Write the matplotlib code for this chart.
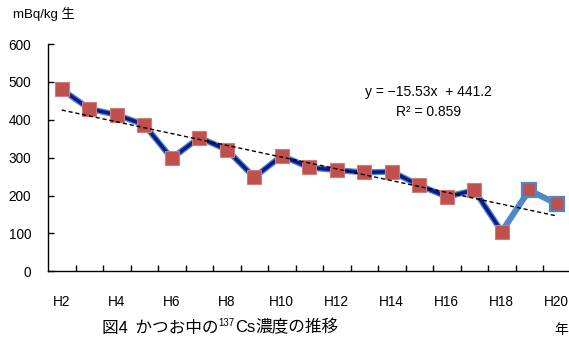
import matplotlib
matplotlib.use("Agg")
import matplotlib.pyplot as plt
import numpy as np

plt.rcParams['font.family'] = ['Liberation Sans', 'Noto Sans CJK JP', 'DejaVu Sans']

# Fiscal years (Heisei) and 137Cs concentration in skipjack tuna (mBq/kg wet)
years = ["H2", "H3", "H4", "H5", "H6", "H7", "H8", "H9", "H10", "H11",
         "H12", "H13", "H14", "H15", "H16", "H17", "H18", "H19", "H20"]
cs137 = [480, 429, 413, 387, 298, 353, 321, 248, 305, 274,
         267, 261, 263, 227, 197, 214, 105, 214, 178]
trend_slope = -15.53
trend_intercept = 441.2
r_squared = 0.859
n_main = 17  # points H2..H18 drawn with the dark core line

fig = plt.figure(figsize=(5.69, 3.40), dpi=100)
ax = fig.add_axes([48 / 569, (340 - 271.3) / 340, 522.5 / 569, 227.3 / 340])

x = np.arange(len(years))
light = '#4F88C6'
navy = '#0A1A8C'
red = '#C0504D'

# light blue band under the whole series, dark core on the earlier part
ax.plot(x, cs137, color=light, lw=4.4, solid_capstyle='round', zorder=2)
ax.plot(x[:n_main], cs137[:n_main], color=navy, lw=2.5, zorder=3)
ax.plot(x[:n_main], cs137[:n_main], 's', ms=10.3, mfc=red, mec='#CF7C7A', mew=0.8, zorder=4)
ax.plot(x[n_main:], cs137[n_main:], 's', ms=10.3, mfc=red, mec=light, mew=1.6, zorder=4)

# linear trend over the series index 1..N
tx = np.arange(1, len(years) + 1)
ty = trend_slope * tx + trend_intercept
ax.plot(tx - 1, ty, color='black', lw=1.0, ls=(0, (3, 2)), zorder=5)

ax.text(0.728, 0.79, "y = \u221215.53x  + 441.2", transform=ax.transAxes,
        ha='center', va='center', fontsize=10)
ax.text(0.728, 0.70, "R\u00b2 = %.3f" % r_squared, transform=ax.transAxes,
        ha='center', va='center', fontsize=10)

ax.set_xlim(-0.5, len(years) - 0.5)
ax.set_ylim(0, 600)
ax.set_yticks(np.arange(0, 601, 100))
ax.set_xticks(x[::2])
ax.set_xticklabels(years[::2])
ax.set_xticks(np.arange(0.5, len(years) - 0.5, 1), minor=True)

ax.tick_params(axis='x', which='major', length=0, pad=17, labelsize=9.8)
ax.tick_params(axis='x', which='minor', direction='in', length=4, width=1)
ax.tick_params(axis='y', direction='in', length=4, width=1, pad=12, labelsize=9.8)

for side in ('top', 'right'):
    ax.spines[side].set_visible(False)
for side in ('left', 'bottom'):
    ax.spines[side].set_linewidth(1.0)

fig.text(13 / 569, 1 - 14 / 340, "mBq/kg 生", fontsize=9.5, ha='left', va='center')
fig.text(561 / 569, 1 - 330 / 340, "年", fontsize=10, ha='center', va='center',
         family=['Noto Sans CJK JP'])

# caption with a superscript mass number, assembled from three text pieces
cap_y = 1 - 328 / 340
fs = 12
t1 = fig.text(102 / 569, cap_y, "図4  かつお中の", fontsize=fs, va='center',
              family=['Noto Sans CJK JP'])
fig.canvas.draw()
r = fig.canvas.get_renderer()
bb1 = t1.get_window_extent(r)
t2 = fig.text(bb1.x1 / fig.bbox.width, cap_y + 5 / 340, "137", fontsize=7, va='center')
fig.canvas.draw()
bb2 = t2.get_window_extent(r)
t3 = fig.text(bb2.x1 / fig.bbox.width, cap_y, "Cs", fontsize=fs, va='center',
              family=['Liberation Sans'])
fig.canvas.draw()
bb3 = t3.get_window_extent(r)
fig.text(bb3.x1 / fig.bbox.width, cap_y, "濃度の推移", fontsize=fs, va='center',
         family=['Noto Sans CJK JP'])

fig.savefig("out.png", dpi=100)
